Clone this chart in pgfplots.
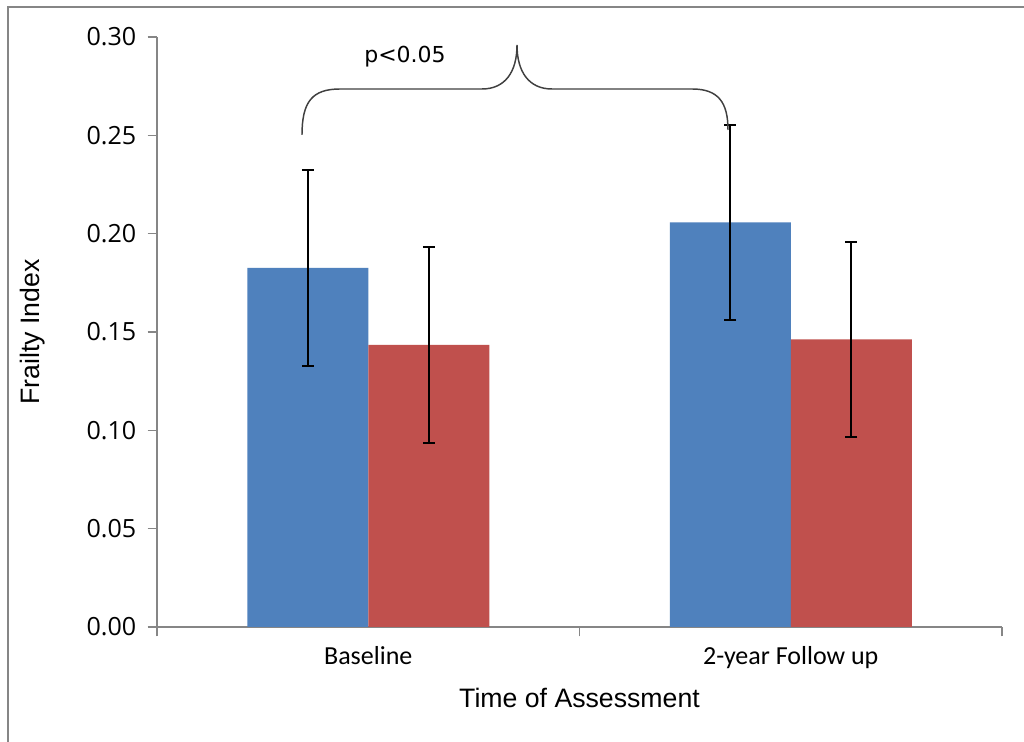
\documentclass[border=0pt]{standalone}
\usepackage{fontspec}
\setmainfont{Carlito}
\newfontfamily\arialf{Liberation Sans}
\newfontfamily\dejavu{DejaVu Sans}
\newfontfamily\opens{Open Sans}
\usepackage{pgfplots}
\pgfplotsset{compat=1.18}
\definecolor{barblue}{HTML}{4F81BD}
\definecolor{barred}{HTML}{C0504D}
\definecolor{axgray}{HTML}{868686}
\definecolor{bracegray}{HTML}{404040}
\begin{document}
\begin{tikzpicture}
\useasboundingbox (0,0) rectangle (768pt,556.5pt);
\fill[white] (0,0) rectangle (768pt,556.5pt);
\begin{scope}[x=0.75pt,y=0.75pt]
\draw[axgray,line width=1.5pt] (8,0) -- (8,735) -- (1024,735);
\end{scope}
\begin{axis}[
  at={(117.75pt,86.25pt)}, anchor=south west,
  scale only axis, width=633.75pt, height=442.5pt,
  xmin=0, xmax=2, ymin=0, ymax=0.30,
  ybar=0pt, bar width=90.75pt,
  axis x line*=bottom, axis y line*=left,
  axis line style={axgray, line width=1.1pt},
  tick align=outside,
  major tick length=7pt,
  tick style={axgray, line width=1.1pt},
  ytick={0,0.05,0.1,0.15,0.2,0.25,0.3},
  /pgf/number format/assume math mode=true,
  /pgf/number format/fixed, /pgf/number format/fixed zerofill, /pgf/number format/precision=2,
  yticklabel={{\opens\fontsize{18.8}{22}\selectfont\pgfmathprintnumber{\tick}}},
  yticklabel style={xshift=-5pt},
  xtick={0,1,2},
  xticklabels={},
  extra x ticks={0.5,1.5},
  extra x tick labels={Baseline, 2-year Follow up},
  extra x tick style={tick style={draw=none}},
  xticklabel style={font=\fontsize{19.5}{23}\selectfont, yshift=-4pt},
  xlabel={Time of Assessment},
  ylabel={Frailty Index},
  xlabel style={font=\arialf\fontsize{20}{24}\selectfont, at={(axis description cs:0.5,-0.1203)}, anchor=center},
  ylabel style={font=\arialf\fontsize{20}{24}\selectfont, at={(axis description cs:-0.1467,0.5)}, anchor=center},
  clip=false,
]
\addplot[fill=barblue, draw=none,
  error bars/.cd, y dir=both, y explicit,
  error bar style={black, line width=1.5pt},
  error mark options={rotate=90, black, mark size=4.5pt, line width=1.5pt}]
  coordinates {(0.5,0.1826) +- (0,0.0499) (1.5,0.2057) +- (0,0.0496)};
\addplot[fill=barred, draw=none,
  error bars/.cd, y dir=both, y explicit,
  error bar style={black, line width=1.5pt},
  error mark options={rotate=90, black, mark size=4.5pt, line width=1.5pt}]
  coordinates {(0.5,0.1434) +- (0,0.0498) (1.5,0.1462) +- (0,0.0496)};
\end{axis}
\begin{scope}[x=0.75pt,y=0.75pt]
\draw[bracegray, line width=1.1pt]
  (302,607) .. controls (302,640) and (312,653) .. (340,653)
  -- (482,653) .. controls (505,653) and (517,670) .. (517,697)
  .. controls (517,670) and (529,653) .. (552,653)
  -- (692,653) .. controls (718,653) and (728,640) .. (728,612);
\node[font=\dejavu\fontsize{16.5}{20}\selectfont] at (405,685) {p<0.05};
\end{scope}
\end{tikzpicture}
\end{document}
